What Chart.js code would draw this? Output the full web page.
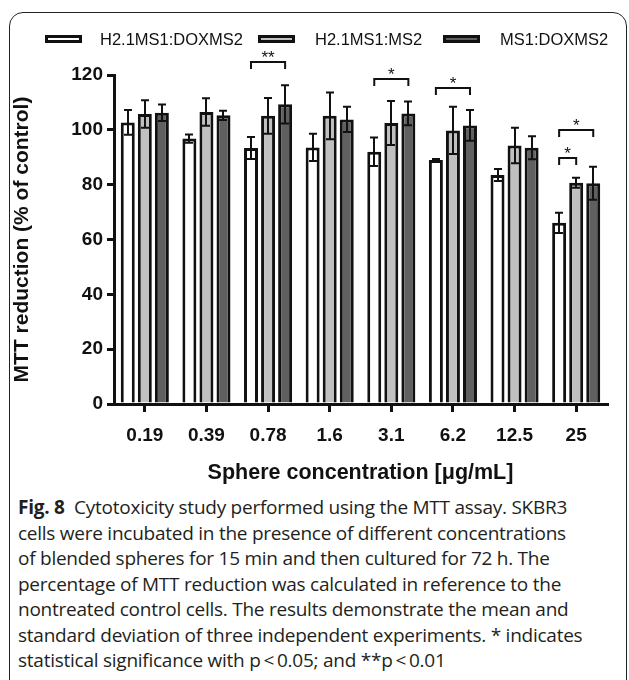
<!DOCTYPE html>
<html>
<head>
<meta charset="utf-8">
<script src="https://cdn.jsdelivr.net/npm/chart.js@4.4.1/dist/chart.umd.min.js"></script>
<style>
  html, body { margin: 0; padding: 0; background: #fff; }
  #wrap { position: relative; width: 629px; height: 680px; overflow: hidden; background: #fff; }
  #frame { position: absolute; left: 9px; top: 12px; width: 618px; height: 720px;
           border: 1.5px solid #222; border-radius: 14px 14px 0 0; box-sizing: border-box; }
  #cv { position: absolute; left: 0; top: 0; }
  #caption { position: absolute; left: 18px; top: 495px; font-family: "Open Sans", sans-serif;
             font-size: 19px; line-height: 25.5px; color: #231f20; white-space: nowrap; letter-spacing: -0.25px; }
  #caption b { font-weight: 700; }
</style>
</head>
<body>
<div id="wrap">
  <div id="frame"></div>
  <canvas id="cv" width="629" height="494"></canvas>
  <div id="caption"><b>Fig. 8</b>&nbsp; Cytotoxicity study performed using the MTT assay. SKBR3<br>cells were incubated in the presence of different concentrations<br>of blended spheres for 15 min and then cultured for 72 h. The<br>percentage of MTT reduction was calculated in reference to the<br>nontreated control cells. The results demonstrate the mean and<br>standard deviation of three independent experiments. * indicates<br>statistical significance with p&thinsp;&lt;&thinsp;0.05; and **p&thinsp;&lt;&thinsp;0.01</div>
</div>
<script>
const categories = ['0.19', '0.39', '0.78', '1.6', '3.1', '6.2', '12.5', '25'];
const seriesNames = ['H2.1MS1:DOXMS2', 'H2.1MS1:MS2', 'MS1:DOXMS2'];
const meanDOX   = [102.7, 96.8, 93.4, 93.6, 92.0, 89.0, 83.5, 66.1];
const sdDOX     = [4.5, 1.5, 4.0, 5.0, 5.2, 0.4, 2.2, 3.7];
const meanMS2   = [105.8, 106.5, 105.1, 105.1, 102.5, 99.8, 94.3, 80.7];
const sdMS2     = [5.0, 5.0, 6.5, 8.5, 8.0, 8.6, 6.5, 1.8];
const meanMS1   = [106.2, 105.3, 109.3, 103.8, 106.0, 101.6, 93.5, 80.5];
const sdMS1     = [3.0, 1.7, 7.0, 4.6, 4.3, 5.6, 4.2, 6.0];
const yTicks    = [0, 20, 40, 60, 80, 100, 120];
// significance brackets: category index, from series, to series, level (y value), label
const sigCat    = [2, 4, 5, 7, 7];
const sigFrom   = [0, 0, 0, 0, 0];
const sigTo     = [2, 2, 2, 2, 1];
const sigLevel  = [124.6, 118.7, 115.1, 100.0, 89.6];
const sigLabel  = ['**', '*', '*', '*', '*'];

const fills = ['#ffffff', '#c0c0c0', '#606060'];
const means = [meanDOX, meanMS2, meanMS1];
const sds = [sdDOX, sdMS2, sdMS1];
const FONT = '"Liberation Sans", Arial, sans-serif';

const errorBars = {
  id: 'errorBars',
  afterDatasetsDraw(chart) {
    const ctx = chart.ctx, y = chart.scales.y;
    ctx.save();
    ctx.strokeStyle = '#111';
    ctx.lineWidth = 2;
    chart.data.datasets.forEach((ds, i) => {
      const meta = chart.getDatasetMeta(i);
      meta.data.forEach((bar, j) => {
        const m = means[i][j], s = sds[i][j];
        const yt = y.getPixelForValue(m + s), yb = y.getPixelForValue(m - s);
        const x = Math.round(bar.x);
        ctx.beginPath();
        ctx.moveTo(x, yt); ctx.lineTo(x, yb);
        ctx.moveTo(x - 4, yt); ctx.lineTo(x + 4, yt);
        ctx.moveTo(x - 4, yb); ctx.lineTo(x + 4, yb);
        ctx.stroke();
      });
    });
    ctx.restore();
  }
};

const brackets = {
  id: 'brackets',
  afterDraw(chart) {
    const ctx = chart.ctx, y = chart.scales.y;
    ctx.save();
    ctx.strokeStyle = '#111';
    ctx.lineWidth = 2;
    ctx.fillStyle = '#111';
    ctx.font = '17px ' + FONT;
    ctx.textAlign = 'center';
    ctx.textBaseline = 'alphabetic';
    sigCat.forEach((c, k) => {
      const x1 = chart.getDatasetMeta(sigFrom[k]).data[c].x;
      const x2 = chart.getDatasetMeta(sigTo[k]).data[c].x;
      const yy = Math.round(y.getPixelForValue(sigLevel[k]));
      ctx.beginPath();
      ctx.moveTo(x1, yy + 7); ctx.lineTo(x1, yy); ctx.lineTo(x2, yy); ctx.lineTo(x2, yy + 7);
      ctx.stroke();
      ctx.fillText(sigLabel[k], (x1 + x2) / 2, yy + 1);
    });
    ctx.restore();
  }
};

const legendBoxX = [45, 258, 443];
const legendTextX = [100, 315, 500];
const customLegend = {
  id: 'customLegend',
  afterDraw(chart) {
    const ctx = chart.ctx;
    const cy = 39;
    ctx.save();
    ctx.font = '16.5px ' + FONT;
    ctx.textBaseline = 'middle';
    ctx.textAlign = 'left';
    seriesNames.forEach((name, i) => {
      ctx.fillStyle = fills[i];
      ctx.fillRect(legendBoxX[i], cy - 4, 37, 8);
      ctx.strokeStyle = '#111';
      ctx.lineWidth = 3;
      ctx.strokeRect(legendBoxX[i] + 1.5, cy - 4 + 1.5, 34, 5);
      ctx.fillStyle = '#111';
      ctx.fillText(name, legendTextX[i], cy + 1);
    });
    ctx.restore();
  }
};

new Chart(document.getElementById('cv'), {
  type: 'bar',
  data: {
    labels: categories,
    datasets: seriesNames.map((n, i) => ({
      label: n,
      data: means[i],
      backgroundColor: fills[i],
      borderColor: '#111',
      borderWidth: 3,
      categoryPercentage: 0.83,
      barPercentage: 0.82
    }))
  },
  options: {
    responsive: false,
    animation: false,
    layout: { padding: { left: 10, right: 22, top: 75, bottom: 8 } },
    plugins: { legend: { display: false }, tooltip: { enabled: false } },
    scales: {
      x: {
        grid: { offset: false, drawOnChartArea: false, tickLength: 8, lineWidth: 3, color: '#111' },
        border: { display: true, width: 3, color: '#111' },
        ticks: { color: '#111', padding: 12, font: { family: FONT, size: 19, weight: 'bold' }, maxRotation: 0 },
        title: { display: true, text: 'Sphere concentration [μg/mL]', color: '#111', padding: { top: 0, bottom: 0 },
                 font: { family: FONT, size: 21.5, weight: 'bold' } },
        afterFit: s => { s.height = 82; }
      },
      y: {
        min: 0, max: 120,
        afterBuildTicks: s => { s.ticks = yTicks.map(v => ({ value: v })); },
        grid: { drawOnChartArea: false, tickLength: 7, lineWidth: 3, color: '#111' },
        border: { display: true, width: 3, color: '#111' },
        ticks: { color: '#111', padding: 4, font: { family: FONT, size: 19, weight: 'bold' } },
        title: { display: true, text: 'MTT reduction (% of control)', color: '#111', padding: { top: 0, bottom: 0 },
                 font: { family: FONT, size: 21, weight: 'bold' } },
        afterFit: s => { s.width = 104; }
      }
    }
  },
  plugins: [errorBars, brackets, customLegend]
});
</script>
</body>
</html>
